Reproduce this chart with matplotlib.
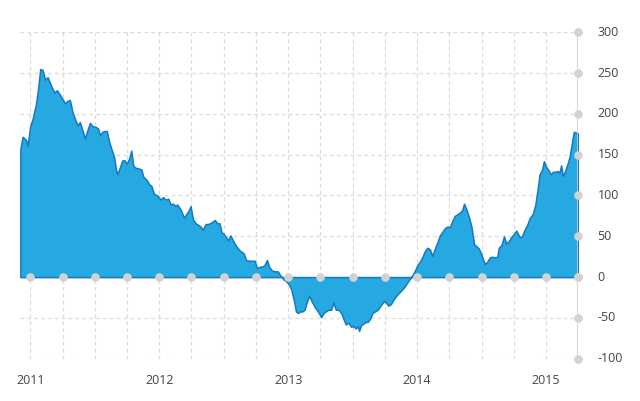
import matplotlib
matplotlib.use("Agg")
import matplotlib.pyplot as plt
import numpy as np

plt.rcParams.update({
    "font.family": ["Open Sans", "DejaVu Sans"],
})

# decimal year / value
years = [
    2010.923, 2010.940, 2010.967, 2010.979, 2010.998, 2011.018, 2011.044, 2011.062,
    2011.077, 2011.095, 2011.114, 2011.134, 2011.160, 2011.186, 2011.206, 2011.232,
    2011.268, 2011.288, 2011.307, 2011.327, 2011.346, 2011.366, 2011.384, 2011.404,
    2011.423, 2011.443, 2011.462, 2011.482, 2011.508, 2011.526, 2011.541, 2011.559,
    2011.572, 2011.593, 2011.611, 2011.637, 2011.650, 2011.663, 2011.675, 2011.696,
    2011.714, 2011.732, 2011.748, 2011.766, 2011.783, 2011.799, 2011.817, 2011.843,
    2011.861, 2011.876, 2011.903, 2011.920, 2011.938, 2011.959, 2011.985, 2012.011,
    2012.029, 2012.049, 2012.070, 2012.088, 2012.106, 2012.127, 2012.139, 2012.165,
    2012.191, 2012.209, 2012.230, 2012.243, 2012.261, 2012.282, 2012.302, 2012.320,
    2012.338, 2012.359, 2012.379, 2012.405, 2012.431, 2012.449, 2012.467, 2012.483,
    2012.500, 2012.518, 2012.534, 2012.552, 2012.578, 2012.596, 2012.622, 2012.655,
    2012.673, 2012.694, 2012.719, 2012.740, 2012.758, 2012.784, 2012.802, 2012.817,
    2012.835, 2012.854, 2012.874, 2012.900, 2012.920, 2012.939, 2012.951, 2012.964,
    2012.978, 2012.990, 2013.008, 2013.024, 2013.034, 2013.049, 2013.060, 2013.075,
    2013.094, 2013.111, 2013.127, 2013.145, 2013.163, 2013.183, 2013.204, 2013.230,
    2013.256, 2013.274, 2013.292, 2013.312, 2013.333, 2013.351, 2013.369, 2013.390,
    2013.411, 2013.428, 2013.446, 2013.467, 2013.488, 2013.506, 2013.524, 2013.539,
    2013.550, 2013.565, 2013.583, 2013.601, 2013.616, 2013.635, 2013.653, 2013.674,
    2013.694, 2013.712, 2013.730, 2013.746, 2013.756, 2013.777, 2013.797, 2013.815,
    2013.833, 2013.848, 2013.867, 2013.885, 2013.906, 2013.926, 2013.944, 2013.962,
    2013.983, 2014.003, 2014.022, 2014.039, 2014.060, 2014.080, 2014.099, 2014.117,
    2014.138, 2014.158, 2014.176, 2014.194, 2014.215, 2014.235, 2014.254, 2014.271,
    2014.292, 2014.312, 2014.331, 2014.349, 2014.364, 2014.382, 2014.401, 2014.421,
    2014.442, 2014.459, 2014.478, 2014.493, 2014.511, 2014.524, 2014.545, 2014.563,
    2014.581, 2014.602, 2014.622, 2014.633, 2014.653, 2014.674, 2014.691, 2014.710,
    2014.730, 2014.751, 2014.769, 2014.795, 2014.813, 2014.834, 2014.854, 2014.872,
    2014.898, 2014.916, 2014.931, 2014.950, 2014.968, 2014.983, 2015.001, 2015.019,
    2015.035, 2015.053, 2015.070, 2015.091, 2015.104, 2015.117, 2015.130, 2015.143,
    2015.163, 2015.182, 2015.200, 2015.215, 2015.235, 2015.250,
]
values = [
    157, 172, 168, 161, 184, 194, 212, 233,
    255, 254, 242, 245, 235, 226, 229, 223,
    213, 216, 217, 202, 194, 186, 190, 180,
    170, 180, 189, 185, 184, 182, 174, 178,
    179, 179, 166, 153, 147, 133, 126, 135,
    143, 143, 139, 145, 155, 136, 134, 133,
    132, 123, 119, 114, 112, 102, 100, 95,
    98, 95, 96, 89, 90, 87, 89, 83,
    73, 77, 82, 87, 71, 66, 64, 62,
    58, 65, 65, 67, 70, 66, 66, 55,
    53, 49, 45, 51, 43, 38, 33, 29,
    21, 20, 20, 20, 11, 13, 13, 15,
    21, 12, 8, 7, 7, 2, 0, -3,
    -4, -6, -10, -15, -22, -32, -42, -44,
    -42, -42, -40, -30, -23, -30, -36, -42,
    -49, -44, -42, -40, -40, -31, -40, -40,
    -44, -51, -58, -56, -61, -60, -63, -60,
    -66, -59, -57, -55, -55, -51, -44, -42,
    -40, -36, -32, -29, -31, -35, -33, -28,
    -24, -21, -18, -15, -11, -6, -2, 2,
    8, 15, 19, 24, 32, 36, 34, 26,
    35, 43, 51, 55, 60, 62, 61, 68,
    75, 77, 79, 82, 90, 83, 74, 62,
    40, 38, 35, 30, 22, 16, 19, 24,
    25, 24, 25, 36, 39, 50, 41, 44,
    49, 53, 57, 49, 50, 58, 64, 72,
    78, 88, 104, 126, 131, 142, 135, 131,
    126, 129, 129, 130, 128, 137, 124, 128,
    137, 147, 164, 178, 177, 176,
]

y_ticks = [-100, -50, 0, 50, 100, 150, 200, 250, 300]
year_labels = ["2011", "2012", "2013", "2014", "2015"]
quarters = np.arange(2011, 2015.26, 0.25)

x_left, x_right = 2010.92, 2015.25

fig = plt.figure(figsize=(6.4, 4.01), dpi=100)
ax = fig.add_axes([20 / 640, 1 - 358.7 / 401, 558.3 / 640, 326.4 / 401])

grid_col = "#dadada"
dot_col = "#d2d2d2"

# dashed grid
for q in quarters[:-1]:
    ax.plot([q, q], [-100, 300], color=grid_col, lw=0.9, ls=(0, (3, 2.5)), zorder=1)
for t in y_ticks:
    ax.plot([x_left, x_right], [t, t], color=grid_col, lw=0.9, ls=(0, (3, 2.5)), zorder=1)

ax.fill_between(years, values, 0, facecolor="#26a9e0", edgecolor="#1479c4",
                linewidth=1.1, zorder=2)

# right axis line and markers
ax.plot([x_right, x_right], [-100, 300], color="#cccccc", lw=1.2, zorder=3)
ax.plot(quarters, np.zeros(len(quarters)), "o", color=dot_col, ms=6.2, mew=0, zorder=4,
        clip_on=False)
ax.plot([x_right] * len(y_ticks), y_ticks, "o", color=dot_col, ms=6.2, mew=0, zorder=4,
        clip_on=False)

for t in y_ticks:
    ax.text(x_right + 0.15, t, str(t), ha="left", va="center", fontsize=9,
            color="#444444")
for i, lab in enumerate(year_labels):
    ax.text(2011 + i, -127, lab, ha="center", va="center", fontsize=9, color="#444444")

ax.set_xlim(x_left, x_right)
ax.set_ylim(-100, 300)
ax.axis("off")

fig.savefig("out.png", dpi=100, facecolor="white")
